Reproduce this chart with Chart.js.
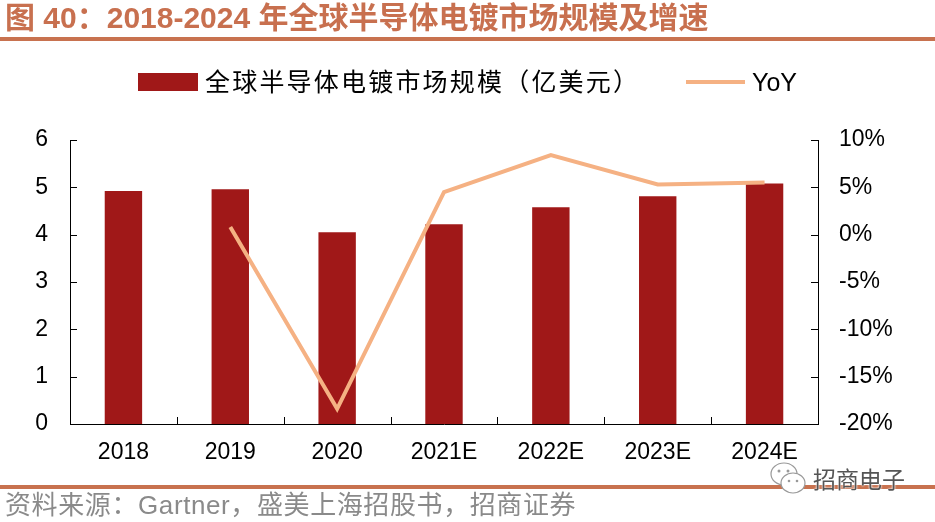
<!DOCTYPE html>
<html>
<head>
<meta charset="utf-8">
<script src="https://cdn.jsdelivr.net/npm/chart.js@4/dist/chart.umd.min.js"></script>
<style>
  body { margin: 0; background: #fff; }
  #wrap { position: relative; width: 935px; height: 522px; overflow: hidden; font-family: "Liberation Sans", "Noto Sans CJK SC", sans-serif; }
  #chart { position: absolute; left: 0; top: 0; }
  .abs { position: absolute; white-space: nowrap; }
  #title { left: 5px; top: 0px; font-size: 30px; line-height: 36px; font-weight: bold; color: #c8704f; letter-spacing: 0px; }
  .rule { left: 0; width: 935px; height: 4px; background: #c8724f; }
  #leg1box { left: 138px; top: 73px; width: 60px; height: 18px; background: #a01818; }
  #leg1 { left: 205px; top: 66px; font-size: 25px; line-height: 32px; letter-spacing: 2.2px; color: #000; }
  #leg2line { left: 686px; top: 80px; width: 59px; height: 4px; background: #f5b183; }
  #leg2 { left: 752px; top: 66px; font-size: 25px; line-height: 32px; color: #000; }
  #foot { left: 5px; top: 489px; font-size: 26px; line-height: 32px; color: #8a8a8a; letter-spacing: 0.6px; }
  #wm { left: 813px; top: 464px; font-size: 23px; line-height: 32px; color: #555; text-shadow: 0 0 2px #fff, 0 0 2px #fff; }
  #wmicon { left: 768px; top: 460px; }
</style>
</head>
<body>
<div id="wrap">
  <canvas id="chart" width="935" height="522"></canvas>
  <div class="abs" id="title">图 40：2018-2024 年全球半导体电镀市场规模及增速</div>
  <div class="abs rule" style="top:37px"></div>
  <div class="abs" id="leg1box"></div>
  <div class="abs" id="leg1">全球半导体电镀市场规模（亿美元）</div>
  <div class="abs" id="leg2line"></div>
  <div class="abs" id="leg2">YoY</div>
  <div class="abs rule" style="top:485px"></div>
  <div class="abs" id="foot">资料来源：Gartner，盛美上海招股书，招商证券</div>
  <svg class="abs" id="wmicon" width="42" height="40" viewBox="0 0 42 40">
    <ellipse cx="16" cy="14" rx="13" ry="11" fill="#fff" stroke="#999" stroke-width="1.2"/>
    <ellipse cx="25" cy="23" rx="12" ry="10" fill="#fff" stroke="#999" stroke-width="1.2"/>
    <circle cx="11" cy="11" r="1.5" fill="#999"/><circle cx="20" cy="11" r="1.5" fill="#999"/>
    <circle cx="21" cy="21" r="1.3" fill="#999"/><circle cx="29" cy="21" r="1.3" fill="#999"/>
  </svg>
  <div class="abs" id="wm">招商电子</div>
</div>
<script>
const years = ['2018', '2019', '2020', '2021E', '2022E', '2023E', '2024E'];
const marketSize = [4.92, 4.96, 4.05, 4.22, 4.58, 4.81, 5.08];   // 亿美元
const yoy = [null, 0.8, -18.4, 4.5, 8.4, 5.3, 5.5];               // %
const leftTicks = [0, 1, 2, 3, 4, 5, 6];
const rightTicks = [-20, -15, -10, -5, 0, 5, 10];

const tickFont = { family: '"Liberation Sans", Arial, sans-serif', size: 23 };

// inward tick marks, like the original
const innerTicks = {
  id: 'innerTicks',
  afterDraw(chart) {
    const { ctx, scales } = chart;
    const x = scales.x, y = scales.y, y1 = scales.y1;
    ctx.save();
    ctx.strokeStyle = '#000';
    ctx.lineWidth = 1;
    ctx.beginPath();
    leftTicks.forEach(v => {
      const p = Math.round(y.getPixelForValue(v)) + 0.5;
      ctx.moveTo(y.right, p); ctx.lineTo(y.right + 7, p);
    });
    rightTicks.forEach(v => {
      const p = Math.round(y1.getPixelForValue(v)) + 0.5;
      ctx.moveTo(y1.left, p); ctx.lineTo(y1.left - 7, p);
    });
    for (let i = 1; i < years.length; i++) {
      const p = Math.round((x.getPixelForValue(i - 1) + x.getPixelForValue(i)) / 2) + 0.5;
      ctx.moveTo(p, x.top); ctx.lineTo(p, x.top - 7);
    }
    ctx.stroke();
    ctx.restore();
  }
};

const chart = new Chart(document.getElementById('chart').getContext('2d'), {
  data: {
    labels: years,
    datasets: [
      {
        type: 'line',
        label: 'YoY',
        data: yoy,
        yAxisID: 'y1',
        borderColor: '#f5b183',
        borderWidth: 4,
        pointRadius: 0,
        tension: 0,
        order: 0,
      },
      {
        type: 'bar',
        label: '全球半导体电镀市场规模（亿美元）',
        data: marketSize,
        yAxisID: 'y',
        backgroundColor: '#a01818',
        categoryPercentage: 1,
        barPercentage: 0.35,
        order: 1,
      },
    ],
  },
  options: {
    responsive: false,
    animation: false,
    layout: { padding: { top: 140, left: 0, right: 0, bottom: 0 } },
    plugins: { legend: { display: false }, tooltip: { enabled: false } },
    scales: {
      x: {
        offset: true,
        grid: { display: false, drawTicks: false },
        border: { color: '#000', width: 1 },
        ticks: { color: '#000', font: tickFont, padding: 15, maxRotation: 0 },
        afterFit(s) { s.height = 98; },
      },
      y: {
        position: 'left',
        min: 0, max: 6,
        grid: { display: false, drawTicks: false },
        border: { color: '#000', width: 1 },
        ticks: { stepSize: 1, color: '#000', font: tickFont, padding: 22 },
        afterFit(s) { s.width = 70; },
      },
      y1: {
        position: 'right',
        min: -20, max: 10,
        grid: { display: false, drawTicks: false },
        border: { color: '#000', width: 1 },
        ticks: { stepSize: 5, color: '#000', font: tickFont, padding: 21, callback: v => v + '%' },
        afterFit(s) { s.width = 117; },
      },
    },
  },
  plugins: [innerTicks],
});
</script>
</body>
</html>
